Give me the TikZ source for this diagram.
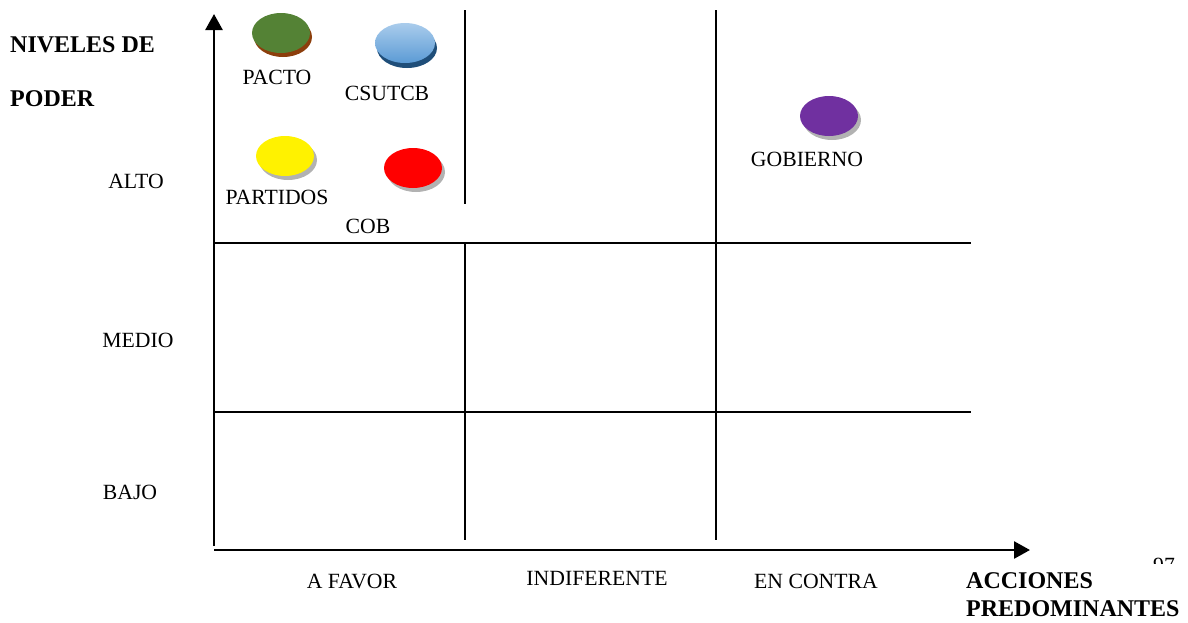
\documentclass[tikz,border=0pt]{standalone}
\usepackage{fontspec}
\setmainfont{Liberation Serif}
\usetikzlibrary{arrows.meta}
\tikzset{
  lbl/.style={inner sep=0pt, font=\fontsize{21.7}{24}\selectfont},
  blbl/.style={inner sep=0pt, anchor=west, font=\fontsize{24}{27}\selectfont\bfseries},
  grid/.style={line width=1.6pt, black},
  axis/.style={line width=2.6pt, black, -{Triangle[length=16pt,width=17pt]}},
}
\begin{document}
\begin{tikzpicture}[x=1pt,y=-1pt]
\useasboundingbox (0,0) rectangle (1188,622);
% grid lines
\coordinate (v1t) at (465,10); \coordinate (v1b) at (465,540);
\coordinate (v2t) at (716,10); \coordinate (v2b) at (716,540);
\coordinate (h1l) at (214,243); \coordinate (h1r) at (971,243);
\coordinate (h2l) at (214,412); \coordinate (h2r) at (971,412);
\draw[grid] (v1t) -- (v1b);
\draw[grid] (v2t) -- (v2b);
\draw[grid] (h1l) -- (h1r);
\draw[grid] (h2l) -- (h2r);
% axes
\coordinate (o) at (214,550);
\coordinate (ytip) at (214,14);
\coordinate (ostart) at (214,546);
\coordinate (xtip) at (1030,550);
\draw[axis] (ostart) -- (ytip);
\draw[axis] (o) -- (xtip);
% white box behind COB
\fill[white] (327,204) rectangle (466,241.5);
% ellipses
\fill[fill={rgb,255:red,140;green,62;blue,12}] (283,37) ellipse (29pt and 20pt);
\fill[fill={rgb,255:red,84;green,130;blue,53}] (281,33) ellipse (29pt and 20pt);
\fill[fill={rgb,255:red,31;green,78;blue,121}] (407,48) ellipse (30pt and 20pt);
\shade[top color={rgb,255:red,170;green,204;blue,236}, bottom color={rgb,255:red,91;green,155;blue,213}] (405,43) ellipse (30pt and 20pt);
\fill[fill={rgb,255:red,178;green,178;blue,178}] (288,160) ellipse (29pt and 20pt);
\fill[yellow] (285,156) ellipse (29pt and 20pt);
\fill[fill={rgb,255:red,178;green,178;blue,178}] (416,172) ellipse (29pt and 20pt);
\fill[red] (413,168) ellipse (29pt and 20pt);
\fill[fill={rgb,255:red,178;green,178;blue,178}] (832,120) ellipse (29pt and 20pt);
\fill[fill={rgb,255:red,112;green,48;blue,160}] (829,116) ellipse (29pt and 20pt);
% labels
\node[lbl] (pacto) at (277,77) {PACTO};
\node[lbl] (csutcb) at (387,93) {CSUTCB};
\node[lbl] (partidos) at (277,197) {PARTIDOS};
\node[lbl] (cob) at (368,226) {COB};
\node[lbl] (gob) at (807,159) {GOBIERNO};
\node[lbl] (alto) at (136,181) {ALTO};
\node[lbl] (medio) at (138,340) {MEDIO};
\node[lbl] (bajo) at (130,492) {BAJO};
\node[lbl] (afavor) at (352,581) {A FAVOR};
\node[lbl] (indif) at (597,578) {INDIFERENTE};
\node[lbl] (contra) at (816,581) {EN CONTRA};
\node[blbl] (niv) at (10,45) {NIVELES DE};
\node[blbl] (poder) at (10,99) {PODER};
\node[blbl] (acc) at (966,581) {ACCIONES};
\node[blbl] (pred) at (966,609) {PREDOMINANTES};
\begin{scope}
\clip (1140,540) rectangle (1188,563);
\node[lbl, anchor=base west] (pg) at (1153,572) {97};
\end{scope}
\end{tikzpicture}
\end{document}
